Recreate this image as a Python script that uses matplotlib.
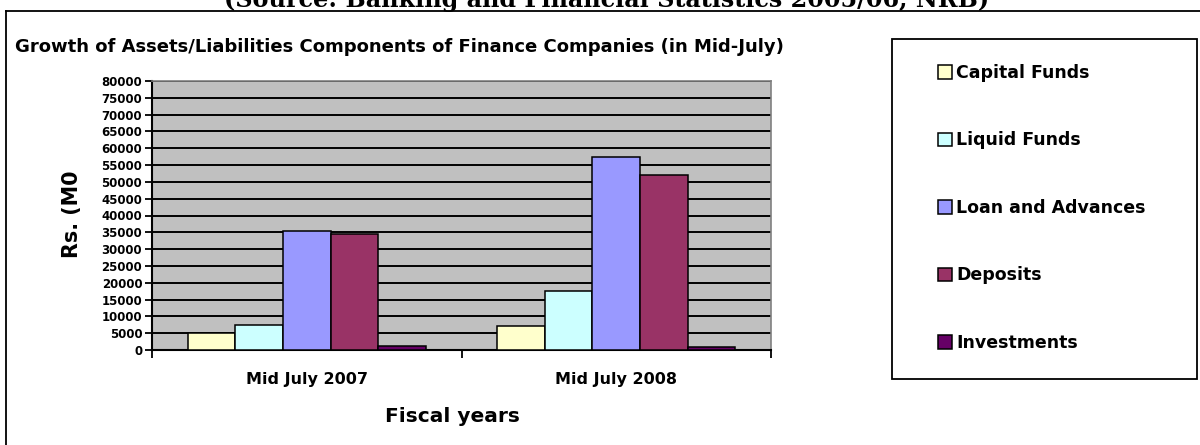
import numpy as np
import matplotlib.pyplot as plt
from matplotlib.lines import Line2D
from matplotlib.patches import Rectangle

# === Data (Rs. million, mid-July) ===
years = ['Mid July 2007', 'Mid July 2008']
components = ['Capital Funds', 'Liquid Funds', 'Loan and Advances', 'Deposits', 'Investments']
capital_funds = [5200, 7200]
liquid_funds = [7400, 17500]
loan_advances = [35500, 57500]
deposits = [34400, 52000]
investments = [1200, 900]
series = [capital_funds, liquid_funds, loan_advances, deposits, investments]
colors = ['#FFFFCC', '#CCFFFF', '#9999FF', '#993366', '#660066']
y_ticks = list(range(0, 80001, 5000))

W, H = 1200, 445
fig = plt.figure(figsize=(W / 100, H / 100), dpi=100)
fig.patch.set_facecolor('white')

def fx(px):
    return px / W

def fy(py):
    return 1 - py / H

# outer frame (top and left edges)
fig.add_artist(Line2D([fx(6), 1], [fy(11), fy(11)], color='black', lw=1.3))
fig.add_artist(Line2D([fx(6), fx(6)], [fy(11), 0], color='black', lw=1.3))

# source line, running off the top edge
fig.text(fx(607), fy(7), '(Source: Banking and Financial Statistics 2005/06, NRB)',
         family='DejaVu Serif', weight='bold', fontsize=17.2, ha='center', va='baseline')

fig.text(fx(15), fy(52), 'Growth of Assets/Liabilities Components of Finance Companies (in Mid-July)',
         family='DejaVu Sans', weight='bold', fontsize=13, ha='left', va='baseline')

# === Plot area ===
ax = fig.add_axes([fx(152), fy(350), fx(771 - 152), (350 - 81) / H])
ax.set_facecolor('#C0C0C0')

x = np.arange(len(years))
w = 0.154
bars = []
for i, (vals, c, name) in enumerate(zip(series, colors, components)):
    b = ax.bar(x + (i - 2) * w, vals, w, color=c, edgecolor='black', linewidth=1.1,
               label=name, zorder=3)
    bars.append(b)

ax.set_xlim(-0.5, 1.5)
ax.set_ylim(0, 80000)
ax.set_yticks(y_ticks)
ax.set_yticklabels([str(t) for t in y_ticks], fontsize=8.5, fontweight='bold')
ax.yaxis.grid(True, color='black', lw=1.4, zorder=1)
ax.set_axisbelow(True)

ax.set_xticks(x)
ax.set_xticklabels(years, fontsize=11.5, fontweight='bold')
ax.set_xticks([-0.5, 0.5, 1.5], minor=True)
ax.tick_params(axis='x', which='major', length=0, pad=16)
ax.tick_params(axis='x', which='minor', length=6, width=1.3, color='black')
ax.tick_params(axis='y', length=5, width=1.3, pad=2)

for s in ['left', 'bottom']:
    ax.spines[s].set_color('black')
    ax.spines[s].set_linewidth(1.5)
for s in ['top', 'right']:
    ax.spines[s].set_color('#808080')
    ax.spines[s].set_linewidth(1.2)

fig.text(fx(72), fy(214), 'Rs. (M0', rotation=90, fontsize=14.9, fontweight='bold',
         ha='center', va='center')
fig.text(fx(452), fy(416), 'Fiscal years', fontsize=14.5, fontweight='bold',
         ha='center', va='center')

# === Legend ===
fig.add_artist(Rectangle((fx(892), fy(379)), fx(1197 - 892), (379 - 39) / H,
                         transform=fig.transFigure, fill=False, edgecolor='black', lw=1.3))
leg = fig.legend(handles=[b[0] for b in bars], labels=components, loc='upper left',
                 bbox_to_anchor=(fx(938), fy(64)), frameon=False,
                 prop={'family': 'DejaVu Sans', 'weight': 'bold', 'size': 12.5},
                 handlelength=0.8, handleheight=0.8, handletextpad=0.25,
                 labelspacing=2.85, borderpad=0, borderaxespad=0)

fig.savefig('out.png', dpi=100)
